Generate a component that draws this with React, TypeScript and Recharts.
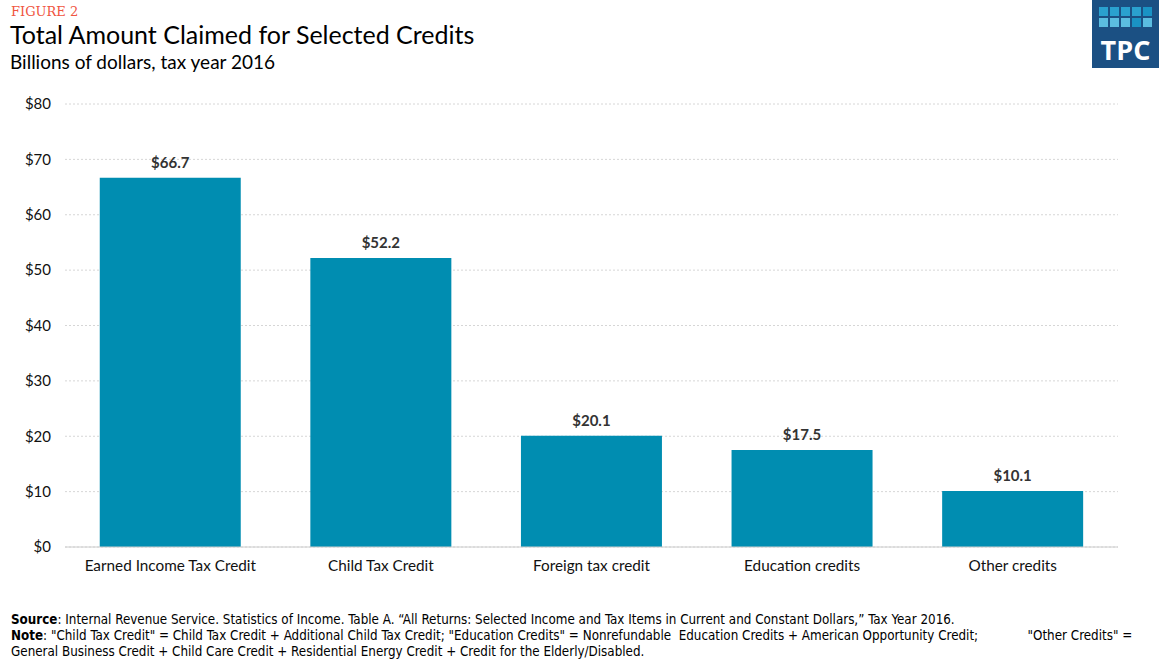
import React from "react";
import { BarChart, Bar, XAxis, YAxis, CartesianGrid, LabelList } from "recharts";

const categories = [
  "Earned Income Tax Credit",
  "Child Tax Credit",
  "Foreign tax credit",
  "Education credits",
  "Other credits",
];
const amounts = [66.7, 52.2, 20.1, 17.5, 10.1];
const yTicks = [0, 10, 20, 30, 40, 50, 60, 70, 80];

const data = categories.map((name, i) => ({ name, value: amounts[i] }));

const BAR = "#008db1";
const FONT = "Lato, 'Open Sans', sans-serif";
const NARROW = "'Liberation Sans Narrow', 'DejaVu Sans Condensed', 'Roboto', sans-serif";

function Logo() {
  const cols = [0, 1, 2, 3, 4];
  return (
    <svg width={67} height={68} style={{ position: "absolute", left: 1092, top: 0 }}>
      <rect x={0} y={0} width={67} height={68} fill="#1b5083" />
      {cols.map((c) => (
        <rect key={"a" + c} x={7 + c * 11} y={7} width={9} height={9} fill={c === 4 ? "#1a93c4" : "#2aa1cf"} />
      ))}
      {cols.map((c) => (
        <rect key={"b" + c} x={7 + c * 11} y={18} width={9} height={9} fill={c === 3 ? "#1a93c4" : "#5bbde0"} />
      ))}
      <text x={33.5} y={60} textAnchor="middle" fill="#fff" fontSize={27} fontWeight={700} fontFamily="'Open Sans', sans-serif">
        TPC
      </text>
    </svg>
  );
}

export default function App() {
  return (
    <div style={{ position: "absolute", left: 0, top: 0, width: 1159, height: 664, background: "#fff", fontFamily: FONT, overflow: "hidden" }}>
      <div style={{ position: "absolute", left: 11, top: 4, fontSize: 13, color: "#f0563f", fontFamily: "'DejaVu Serif', 'Liberation Serif', serif" }}>
        FIGURE 2
      </div>
      <div style={{ position: "absolute", left: 10, top: 19, fontSize: 25, color: "#000" }}>
        Total Amount Claimed for Selected Credits
      </div>
      <div style={{ position: "absolute", left: 10, top: 50, fontSize: 19, color: "#000" }}>
        Billions of dollars, tax year 2016
      </div>
      <Logo />

      <div style={{ position: "absolute", left: 0, top: 0 }}>
        <BarChart width={1159} height={600} data={data} margin={{ top: 104, right: 41, bottom: 23, left: 0 }} barCategoryGap="16.5%">
          <CartesianGrid vertical={false} stroke="#d6d6d6" strokeDasharray="2 2" />
          <XAxis
            dataKey="name"
            height={30}
            tickLine={false}
            axisLine={{ stroke: "#cccccc" }}
            tickMargin={7}
            tick={{ fontSize: 15.3, fill: "#111", fontFamily: FONT }}
            interval={0}
          />
          <YAxis
            width={65}
            domain={[0, 80]}
            ticks={yTicks}
            axisLine={false}
            tickLine={false}
            tickMargin={8}
            tickFormatter={(v) => `$${v}`}
            tick={{ fontSize: 15, fill: "#111", fontFamily: FONT }}
          />
          <Bar dataKey="value" fill={BAR} isAnimationActive={false}>
            <LabelList
              dataKey="value"
              position="top"
              offset={10}
              formatter={(v: number) => `$${v.toFixed(1)}`}
              style={{ fontSize: 15, fontWeight: 700, fill: "#333", fontFamily: FONT }}
            />
          </Bar>
        </BarChart>
      </div>

      <div style={{ position: "absolute", left: 11, top: 612, fontSize: 13.3, lineHeight: "16px", color: "#000", fontFamily: NARROW, whiteSpace: "pre" }}>
        <div>
          <b>Source</b>: Internal Revenue Service. Statistics of Income. Table A. “All Returns: Selected Income and Tax Items in Current and Constant Dollars,” Tax Year 2016.
        </div>
        <div>
          <b>Note</b>: "Child Tax Credit" = Child Tax Credit + Additional Child Tax Credit; "Education Credits" = Nonrefundable  Education Credits + American Opportunity Credit;             "Other Credits" =
        </div>
        <div>General Business Credit + Child Care Credit + Residential Energy Credit + Credit for the Elderly/Disabled.</div>
      </div>
    </div>
  );
}
